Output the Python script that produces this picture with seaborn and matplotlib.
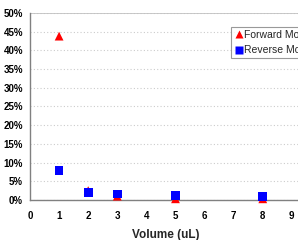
import numpy as np
import pandas as pd
import matplotlib
matplotlib.use("Agg")
import matplotlib.pyplot as plt
import seaborn as sns
from matplotlib.ticker import PercentFormatter

# data
volume = [1, 2, 3, 5, 8]
forward = [43.8, 2.5, 1.0, 0.3, 0.3]
reverse = [7.8, 2.0, 1.6, 1.1, 1.0]
series = ["Forward Mode", "Reverse Mode"]

df = pd.DataFrame({
    "volume": volume * 2,
    "pct": forward + reverse,
    "mode": [series[0]] * len(volume) + [series[1]] * len(volume),
})

sns.set_style("white")
plt.rcParams["font.family"] = ["Liberation Sans", "DejaVu Sans"]

fig = plt.figure(figsize=(2.98, 2.40), dpi=100)
ax = fig.add_axes([0.1007, 0.167, 0.908, 0.779])

sns.scatterplot(data=df, x="volume", y="pct", hue="mode", style="mode",
                palette={series[0]: "#ff0000", series[1]: "#0000ff"},
                markers={series[0]: "^", series[1]: "s"},
                s=40, edgecolor="none", ax=ax, zorder=3, clip_on=False)

ax.set_xlim(0, 9.3)
ax.set_ylim(0, 50)
ax.set_xticks(range(0, 10))
ax.set_yticks(range(0, 51, 5))
ax.yaxis.set_major_formatter(PercentFormatter(decimals=0))
ax.grid(axis="y", color="#cccccc", linestyle=(0, (1, 2)), linewidth=0.8)
ax.axhline(50, color="#c0c0c0", linewidth=1.2, zorder=2)

for s in ["top", "right"]:
    ax.spines[s].set_visible(False)
for s in ["left", "bottom"]:
    ax.spines[s].set_color("#808080")
    ax.spines[s].set_linewidth(1.0)

ax.tick_params(axis="both", labelsize=7, colors="#000000", length=3,
               width=0.8, color="#808080", direction="out", pad=2)
for lab in ax.get_xticklabels() + ax.get_yticklabels():
    lab.set_fontweight("bold")
ax.tick_params(axis="x", pad=5)

ax.set_xlabel("Volume (uL)", fontsize=8.5, fontweight="bold", labelpad=6)
ax.set_ylabel("")

leg = ax.legend(loc="upper left", bbox_to_anchor=(0.742, 0.925),
                borderaxespad=0, fontsize=7.5, frameon=True, fancybox=False,
                handletextpad=0.1, handlelength=0.9, borderpad=0.3,
                labelspacing=0.5, markerscale=0.8)
leg.get_frame().set_edgecolor("#808080")
leg.get_frame().set_linewidth(0.8)

fig.savefig("out.png", dpi=100)
